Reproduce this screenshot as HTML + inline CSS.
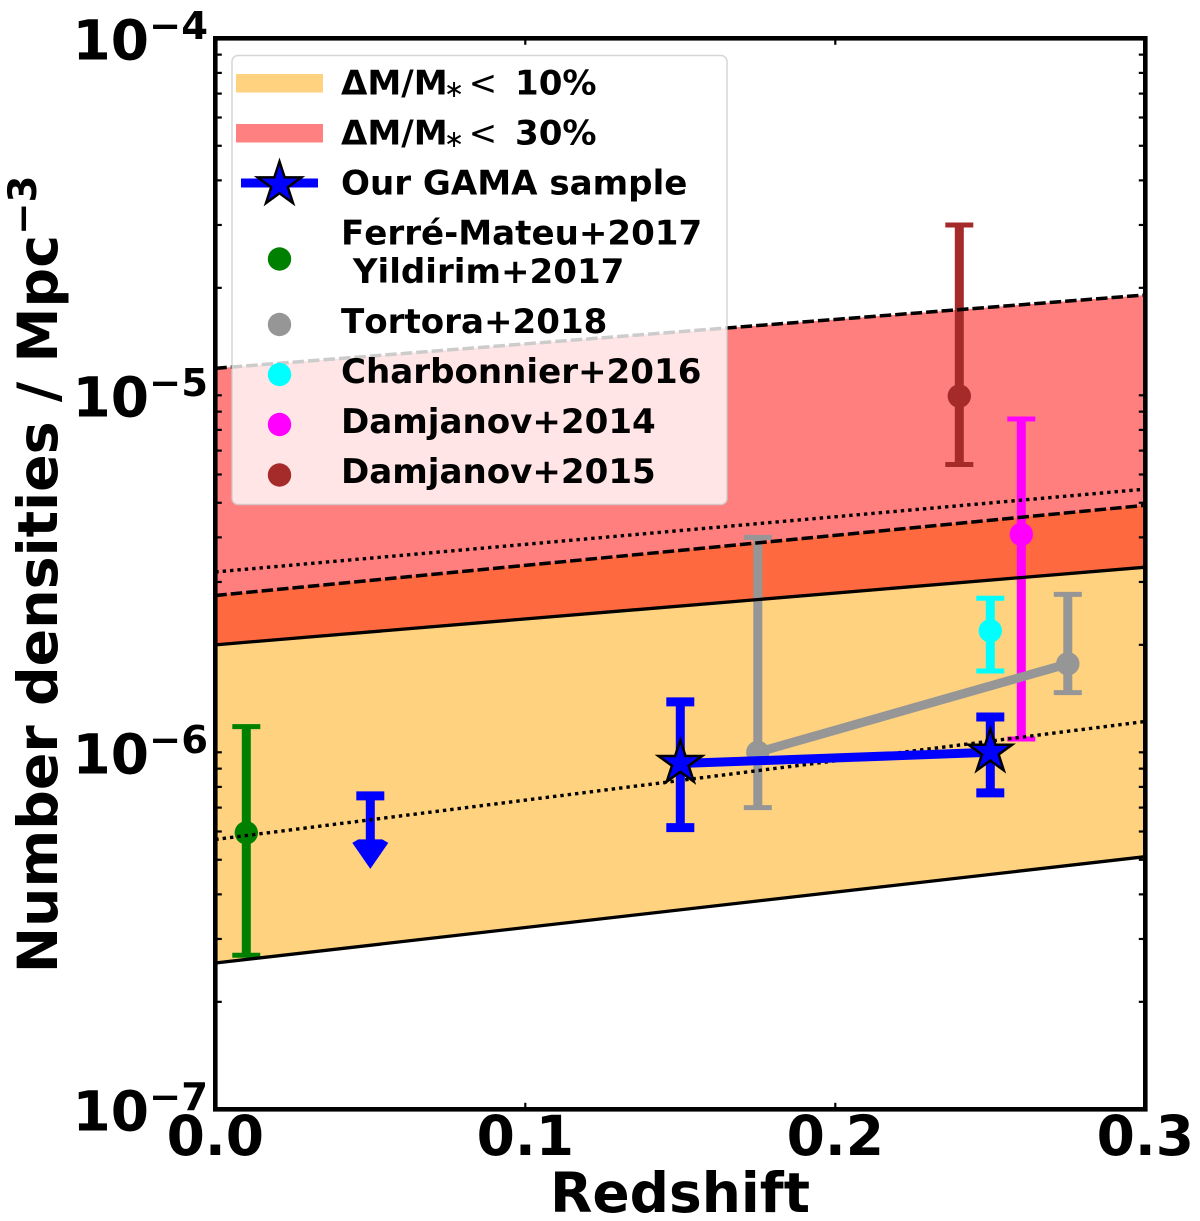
<!DOCTYPE html>
<html lang="en">
<head>
<meta charset="utf-8">
<title>Number densities vs redshift</title>
<style>
html,body{margin:0;padding:0;background:#fff;width:1200px;height:1221px;overflow:hidden}
svg{display:block}
text{font-family:"DejaVu Sans","Liberation Sans",sans-serif;font-weight:700;fill:#000;white-space:pre;font-kerning:none}
</style>
</head>
<body>
<svg id="chart" xmlns="http://www.w3.org/2000/svg" width="1200" height="1221" viewBox="0 0 1200 1221">
  <g id="fills"></g>
  <g id="errs"></g>
  <g id="lines"></g>
  <g id="gama"></g>
  <g id="ticks"></g>
  <rect x="215.3" y="38.3" width="930" height="1071" fill="none" stroke="#000" stroke-width="4.6"/>
  <g id="ticklabels"></g>
  <text x="680" y="1212" font-size="55" text-anchor="middle">Redshift</text>
  <text transform="translate(57 973.3) rotate(-90)" font-size="55.4">Number densities / Mpc<tspan dy="-21" font-size="38.8">−3</tspan></text>

  <g>
    <rect x="232" y="55.5" width="495" height="449" rx="6" fill="#fff" fill-opacity="0.8" stroke="#ccc" stroke-opacity="0.8" stroke-width="1.5"/>
    <rect x="236" y="74" width="87" height="18.5" fill="#ffd280"/>
    <rect x="236" y="124" width="87" height="18.5" fill="#ff8080"/>
    <rect x="241" y="178.5" width="77" height="9" fill="#0000ff"/>
    <polygon id="legendStar" fill="#0000ff" stroke="#000" stroke-width="2.5" stroke-linejoin="miter"/>
    <circle cx="279.5" cy="259" r="11.7" fill="#008000"/>
    <circle cx="279.5" cy="324.5" r="11.7" fill="#969696"/>
    <circle cx="279.5" cy="374.5" r="11.7" fill="#00ffff"/>
    <circle cx="279.5" cy="424.5" r="11.7" fill="#ff00ff"/>
    <circle cx="279.5" cy="475" r="11.7" fill="#a52a2a"/>
    <g font-size="34.1">
      <text x="341" y="94.5">ΔM/M<tspan x="444" y="97" font-size="24" font-weight="400">∗</tspan><tspan x="468.6" y="94.5" font-weight="400">&lt;</tspan><tspan x="515" y="94.5">10%</tspan></text>
      <text x="341" y="144.5">ΔM/M<tspan x="444" y="147" font-size="24" font-weight="400">∗</tspan><tspan x="468.6" y="144.5" font-weight="400">&lt;</tspan><tspan x="515" y="144.5">30%</tspan></text>
      <text x="341" y="194.5">Our GAMA sample</text>
      <text x="341" y="244.5">Ferré-Mateu+2017</text>
      <text x="341" y="283"> Yildirim+2017</text>
      <text x="341" y="333">Tortora+2018</text>
      <text x="341" y="383">Charbonnier+2016</text>
      <text x="341" y="433">Damjanov+2014</text>
      <text x="341" y="483">Damjanov+2015</text>
    </g>
  </g>
</svg>
<script>
// Chart data
const bandZ = [0, 0.3];
const band10Upper = [2.75e-6, 4.92e-6];
const band10Mid = [5.7e-7, 1.22e-6];
const band10Lower = [2.57e-7, 5.1e-7];
const band30Upper = [1.19e-5, 1.91e-5];
const band30Mid = [3.2e-6, 5.46e-6];
const band30Lower = [2.0e-6, 3.3e-6];

const greenZ = [0.01];
const greenV = [5.95e-7];
const greenHi = [1.18e-6];
const greenLo = [2.7e-7];

const tortoraZ = [0.175, 0.275];
const tortoraV = [1.0e-6, 1.77e-6];
const tortoraHi = [4.0e-6, 2.77e-6];
const tortoraLo = [7.0e-7, 1.47e-6];

const charbonnierZ = [0.25];
const charbonnierV = [2.19e-6];
const charbonnierHi = [2.7e-6];
const charbonnierLo = [1.69e-6];

const damjanov14Z = [0.26];
const damjanov14V = [4.08e-6];
const damjanov14Hi = [8.58e-6];
const damjanov14Lo = [1.09e-6];

const damjanov15Z = [0.24];
const damjanov15V = [9.95e-6];
const damjanov15Hi = [3.0e-5];
const damjanov15Lo = [6.4e-6];

const gamaZ = [0.15, 0.25];
const gamaV = [9.3e-7, 1.0e-6];
const gamaHi = [1.384e-6, 1.256e-6];
const gamaLo = [6.15e-7, 7.7e-7];

const limitZ = [0.05];
const limitV = [7.55e-7];

const xTickValues = [0, 0.1, 0.2, 0.3];
const xTickLabels = ['0.0', '0.1', '0.2', '0.3'];
const yTickExponents = [-4, -5, -6, -7];
const yTickLabels = ['−4', '−5', '−6', '−7'];
const yMinorMultipliers = [2, 3, 4, 5, 6, 7, 8, 9];

const SVGNS = 'http://www.w3.org/2000/svg';
const plotLeft = 215.3, plotWidth = 930, plotTop = 38.3, plotDecade = 357;
function xScale(z) { return plotLeft + z / 0.3 * plotWidth; }
function yScale(v) { return plotTop + (-4 - Math.log10(v)) * plotDecade; }
function mk(parent, tag, attrs) {
  const el = document.createElementNS(SVGNS, tag);
  for (const k in attrs) el.setAttribute(k, attrs[k]);
  document.getElementById(parent).appendChild(el);
  return el;
}
function starPoints(cx, cy, R) {
  const r = R * 0.382, pts = [];
  for (let i = 0; i < 10; i++) {
    const rad = i % 2 ? r : R, a = -Math.PI / 2 + i * Math.PI / 5;
    pts.push((cx + rad * Math.cos(a)).toFixed(2) + ',' + (cy + rad * Math.sin(a)).toFixed(2));
  }
  return pts.join(' ');
}
function bandPath(upper, lower) {
  return 'M' + xScale(bandZ[0]) + ' ' + yScale(upper[0]) +
    'L' + xScale(bandZ[1]) + ' ' + yScale(upper[1]) +
    'L' + xScale(bandZ[1]) + ' ' + yScale(lower[1]) +
    'L' + xScale(bandZ[0]) + ' ' + yScale(lower[0]) + 'Z';
}
function drawErr(parent, name, z, v, hi, lo, color, capThick, withMarker) {
  for (let i = 0; i < z.length; i++) {
    const x = xScale(z[i]);
    const stem = mk(parent, 'line', {x1: x, x2: x, y1: yScale(hi[i]), y2: yScale(lo[i]), stroke: color, 'stroke-width': 9});
    
    
    const capHi = mk(parent, 'line', {x1: x - 14, x2: x + 14, y1: yScale(hi[i]), y2: yScale(hi[i]), stroke: color, 'stroke-width': capThick});
    
    
    const capLo = mk(parent, 'line', {x1: x - 14, x2: x + 14, y1: yScale(lo[i]), y2: yScale(lo[i]), stroke: color, 'stroke-width': capThick});
    
    
    if (withMarker) {
      const dot = mk(parent, 'circle', {cx: x, cy: yScale(v[i]), r: 11.7, fill: color});
      
      
    }
  }
}
function drawBandLine(name, vals, dash, width) {
  const attrs = {x1: xScale(bandZ[0]), x2: xScale(bandZ[1]), y1: yScale(vals[0]), y2: yScale(vals[1]), stroke: '#000', 'stroke-width': width};
  if (dash) attrs['stroke-dasharray'] = dash;
  const l = mk('lines', 'line', attrs);
  
  
}

// Bands
const fill10 = mk('fills', 'path', {d: bandPath(band10Upper, band10Lower), fill: '#ffa500', 'fill-opacity': 0.5});


const fill30 = mk('fills', 'path', {d: bandPath(band30Upper, band30Lower), fill: '#ff0000', 'fill-opacity': 0.5});



// Literature points
drawErr('errs', 'ferre-mateu', greenZ, greenV, greenHi, greenLo, '#008000', 5, true);
drawErr('errs', 'damjanov-2015', damjanov15Z, damjanov15V, damjanov15Hi, damjanov15Lo, '#a52a2a', 5, true);
drawErr('errs', 'damjanov-2014', damjanov14Z, damjanov14V, damjanov14Hi, damjanov14Lo, '#ff00ff', 5, true);
drawErr('errs', 'charbonnier', charbonnierZ, charbonnierV, charbonnierHi, charbonnierLo, '#00ffff', 5, true);
drawErr('errs', 'tortora', tortoraZ, tortoraV, tortoraHi, tortoraLo, '#969696', 5, true);
const tortoraLine = mk('errs', 'polyline', {points: tortoraZ.map((z, i) => xScale(z) + ',' + yScale(tortoraV[i])).join(' '), fill: 'none', stroke: '#969696', 'stroke-width': 9});



// Upper limit
limitZ.forEach((z, i) => {
  const x = xScale(z), y = yScale(limitV[i]);
  const stem = mk('errs', 'line', {x1: x, x2: x, y1: y, y2: y + 46, stroke: '#0000ff', 'stroke-width': 9});
  
  
  const cap = mk('errs', 'line', {x1: x - 14, x2: x + 14, y1: y, y2: y, stroke: '#0000ff', 'stroke-width': 9});
  
  
  const head = mk('errs', 'polygon', {points: [[x - 18, y + 47], [x - 12, y + 43.5], [x + 12, y + 43.5], [x + 18, y + 47], [x, y + 73]].map(p => p.join(',')).join(' '), fill: '#0000ff'});
  
  
});

// Band boundary lines
drawBandLine('band-30-upper-line', band30Upper, '11.5 4', 3.5);
drawBandLine('band-30-mid-line', band30Mid, '3.4 4', 3.4);
drawBandLine('band-30-lower-line', band30Lower, null, 3.3);
drawBandLine('band-10-upper-line', band10Upper, '11.5 4', 3.5);
drawBandLine('band-10-mid-line', band10Mid, '3.4 4', 3.4);
drawBandLine('band-10-lower-line', band10Lower, null, 3.3);

// GAMA sample
drawErr('gama', 'gama', gamaZ, gamaV, gamaHi, gamaLo, '#0000ff', 9, false);
const gamaLine = mk('gama', 'polyline', {points: gamaZ.map((z, i) => xScale(z) + ',' + yScale(gamaV[i])).join(' '), fill: 'none', stroke: '#0000ff', 'stroke-width': 9});


gamaZ.forEach((z, i) => {
  const star = mk('gama', 'polygon', {points: starPoints(xScale(z), yScale(gamaV[i]) - 0.5, 23), fill: '#0000ff', stroke: '#000', 'stroke-width': 2.5});
  
  
});
document.getElementById('legendStar').setAttribute('points', starPoints(279.5, 184.5, 23));

// Ticks
xTickValues.forEach(v => {
  const x = xScale(v);
  const top = mk('ticks', 'line', {x1: x, x2: x, y1: plotTop, y2: plotTop + 6.5, stroke: '#000', 'stroke-width': 2.2});
  
  
  const bottom = mk('ticks', 'line', {x1: x, x2: x, y1: plotTop + 3 * plotDecade, y2: plotTop + 3 * plotDecade - 6.5, stroke: '#000', 'stroke-width': 2.2});
  
  
});
yTickExponents.forEach(exp => {
  const marks = [Math.pow(10, exp)];
  if (exp < -4) yMinorMultipliers.forEach(m => marks.push(m * Math.pow(10, exp)));
  marks.forEach(v => {
    const y = yScale(v);
    const left = mk('ticks', 'line', {x1: plotLeft, x2: plotLeft + 6.5, y1: y, y2: y, stroke: '#000', 'stroke-width': 2.2});
    
    
    const right = mk('ticks', 'line', {x1: plotLeft + plotWidth, x2: plotLeft + plotWidth - 6.5, y1: y, y2: y, stroke: '#000', 'stroke-width': 2.2});
    
    
  });
});

// Tick labels
xTickValues.forEach((v, i) => {
  const t = mk('ticklabels', 'text', {x: xScale(v), y: 1155, 'font-size': 55, 'text-anchor': 'middle'});
  t.textContent = xTickLabels[i];
  
  
});
yTickExponents.forEach((exp, i) => {
  const y = yScale(Math.pow(10, exp));
  const base = mk('ticklabels', 'text', {x: 72.5, y: y + 21, 'font-size': 55});
  base.textContent = '10';
  
  
  const sup = mk('ticklabels', 'text', {x: 149, y: y + 0.5, 'font-size': 38.5});
  sup.textContent = yTickLabels[i];
  
  
});
</script>
</body>
</html>
